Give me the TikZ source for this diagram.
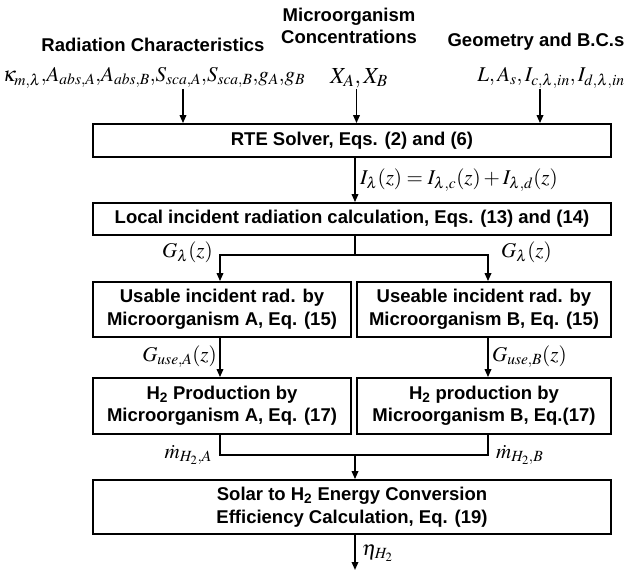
\documentclass[tikz,border=0pt]{standalone}
\usepackage{mathptmx}
\usepackage[no-math]{fontspec}
\setmainfont{Liberation Sans}
\usetikzlibrary{arrows.meta}
\newcommand{\txtfont}{\fontsize{18.5}{22.5}\selectfont\bfseries}
\newcommand{\mthfont}{\fontsize{21}{24}\selectfont}
\newcommand{\cm}{{,}\,}
\begin{document}
\begin{tikzpicture}[x=1pt,y=-1pt,
  box/.style={draw,line width=1.7pt,inner sep=0pt,align=center,font=\txtfont},
  arr/.style={line width=1.7pt,-{Triangle[length=8pt,width=6.5pt]}},
  ln/.style={line width=1.7pt},
  lab/.style={inner sep=0pt,font=\mthfont},
  ttl/.style={inner sep=0pt,align=center,font=\txtfont}]
\useasboundingbox (0,0) rectangle (643,577);
% titles
\node[ttl] (t1) at (153,45) {Radiation Characteristics};
\node[ttl] (t2) at (349,26) {Microorganism\\Concentrations};
\node[ttl] (t3) at (536,42) {Geometry and B.C.s};
\node[lab] (m1) at (154,78) {$\kappa_{m,\lambda}{,}A_{abs,A}{,}A_{abs,B}{,}S_{sca,A}{,}S_{sca,B}{,}g_A{,}g_B$};
\node[lab,font=\fontsize{23}{26}\selectfont] (m2) at (359,78) {$X_A, X_B$};
\node[lab] (m3) at (551,78) {$L, A_s, I_{c,\lambda,in}, I_{d,\lambda,in}$};
% boxes
\node[box,minimum width=518pt,minimum height=33pt] (rte) at (352,140.5) {RTE Solver, Eqs. (2) and (6)};
\node[box,minimum width=518pt,minimum height=32pt] (loc) at (352,219) {Local incident radiation calculation, Eqs. (13) and (14)};
\node[box,minimum width=258pt,minimum height=55pt] (useA) at (222,309.5) {Usable incident rad. by\\Microorganism A, Eq. (15)};
\node[box,minimum width=254pt,minimum height=55pt] (useB) at (484,309.5) {Useable incident rad. by\\Microorganism B, Eq. (15)};
\node[box,minimum width=258pt,minimum height=56pt] (hA) at (222,406) {H\textsubscript{2} Production by\\Microorganism A, Eq. (17)};
\node[box,minimum width=254pt,minimum height=56pt] (hB) at (484,406) {H\textsubscript{2} production by\\Microorganism B, Eq.(17)};
\node[box,minimum width=518pt,minimum height=54pt] (sol) at (352,507) {Solar to H\textsubscript{2} Energy Conversion\\Efficiency Calculation, Eq. (19)};
% helper coordinates
\coordinate (xa) at (183,89);
\coordinate (xb) at (356.5,89);
\coordinate (xc) at (540,89);
\coordinate (xm) at (355,0);
\coordinate (xl) at (220,0);
\coordinate (xr) at (488,0);
\coordinate (split) at (355,255);
\coordinate (join) at (355,455);
\coordinate (out) at (355,570);
% connectors
\draw[arr] (xa) -- (rte.north -| xa);
\draw[arr] (xb) -- (rte.north -| xb);
\draw[arr] (xc) -- (rte.north -| xc);
\draw[arr] (rte.south -| xm) -- (loc.north -| xm);
\draw[ln] (loc.south -| xm) -- (split);
\draw[arr] (split) -| (useA.north -| xl);
\draw[arr] (split) -| (useB.north -| xr);
\draw[arr] (useA.south -| xl) -- (hA.north -| xl);
\draw[arr] (useB.south -| xr) -- (hB.north -| xr);
\draw[ln] (hA.south -| xl) |- (join);
\draw[ln] (hB.south -| xr) |- (join);
\draw[arr] (join) -- (sol.north -| join);
\draw[arr] (sol.south -| out) -- (out);
% labels
\node[lab,anchor=west] (li) at (360,180) {$I_\lambda(z) = I_{\lambda,c}(z) + I_{\lambda,d}(z)$};
\node[lab,anchor=east] (gl) at (213,252) {$G_\lambda(z)$};
\node[lab,anchor=west] (gr) at (501,252) {$G_\lambda(z)$};
\node[lab,anchor=east] (ua) at (217,357) {$G_{use,A}(z)$};
\node[lab,anchor=west] (ub) at (492,357) {$G_{use,B}(z)$};
\node[lab,anchor=east] (ma) at (212,455) {$\dot m_{H_2,A}$};
\node[lab,anchor=west] (mb) at (496,455) {$\dot m_{H_2,B}$};
\node[lab,anchor=west] (et) at (362,553) {$\eta_{H_2}$};
\end{tikzpicture}
\end{document}
